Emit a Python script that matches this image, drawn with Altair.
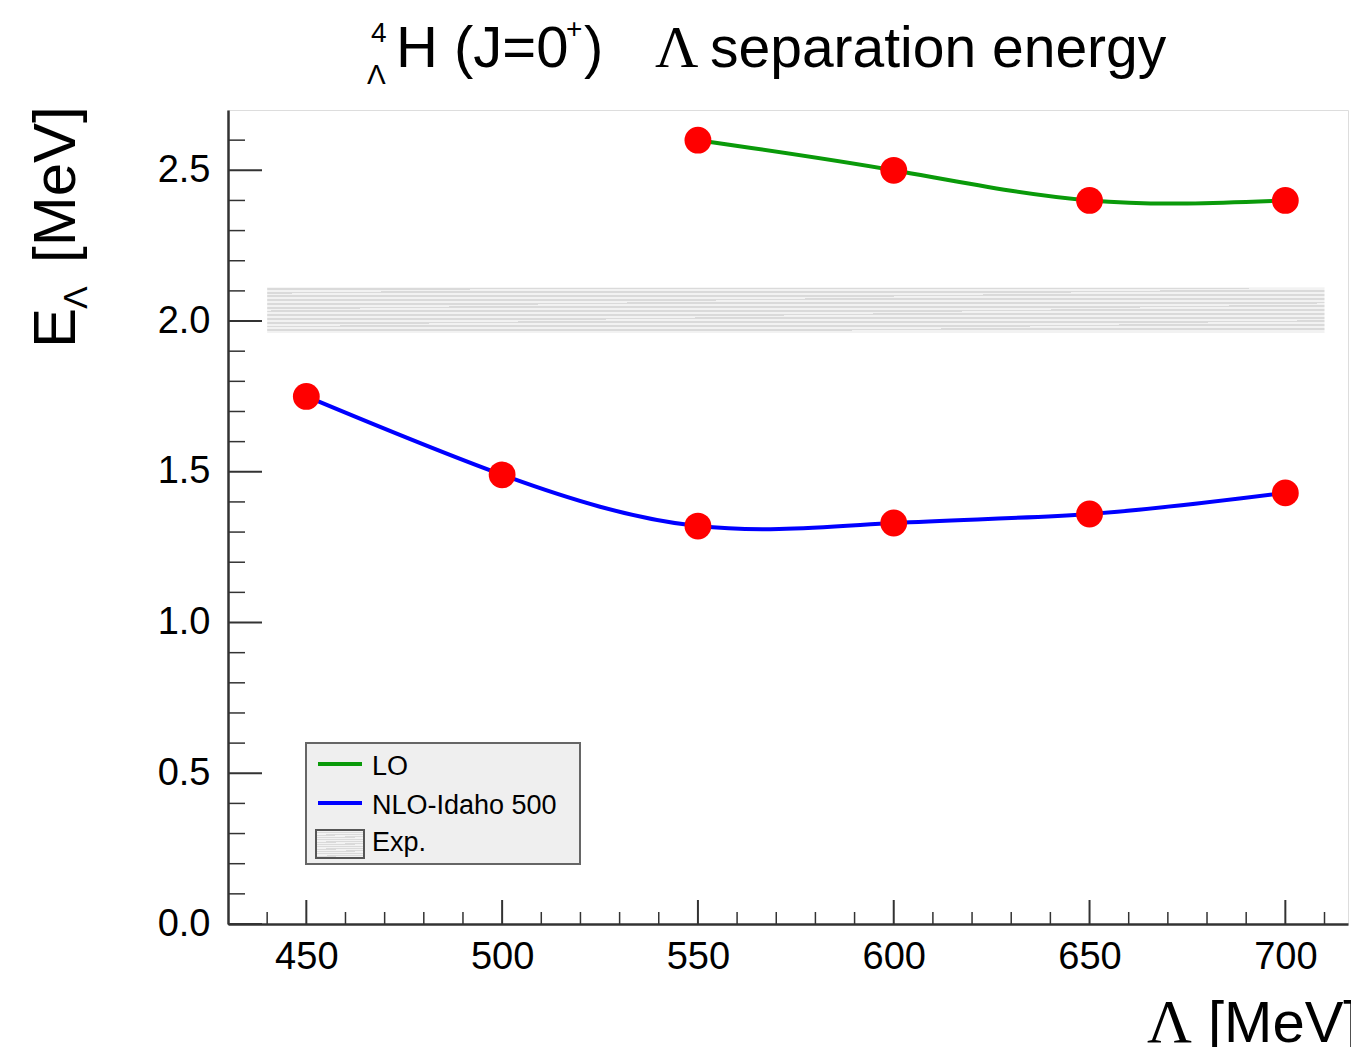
import altair as alt
import pandas as pd

# ---- data ----
cutoff_lo = [550, 600, 650, 700]
e_lo = [2.60, 2.50, 2.40, 2.40]
cutoff_nlo = [450, 500, 550, 600, 650, 700]
e_nlo = [1.75, 1.49, 1.32, 1.33, 1.36, 1.43]
exp_x = [440, 710]
exp_band = [1.96, 2.11]
x_major = [450, 500, 550, 600, 650, 700]
y_major = [0.0, 0.5, 1.0, 1.5, 2.0, 2.5]
legend_labels = ["LO", "NLO-Idaho 500", "Exp."]
series_colors = ["#0a9a0a", "#0000ff"]

X_DOMAIN = [430, 716]
Y_DOMAIN = [0, 2.7]
W, H = 1120, 814
OX, OY = 228, 110  # page position of plot origin
SANS = "Liberation Sans"
SERIF = "Liberation Serif"

x_minor = [v for v in range(440, 716, 10) if v % 50 != 0]
y_minor = [round(i * 0.1, 1) for i in range(1, 27) if i % 5 != 0]

xs = alt.Scale(domain=X_DOMAIN, nice=False, zero=False)
ys = alt.Scale(domain=Y_DOMAIN, nice=False, zero=True)

lo_df = pd.DataFrame({"x": cutoff_lo, "y": e_lo})
nlo_df = pd.DataFrame({"x": cutoff_nlo, "y": e_nlo})
band_df = pd.DataFrame({"x": [exp_x[0]], "x2": [exp_x[1]], "y": [exp_band[0]], "y2": [exp_band[1]]})

stops = []
n = 12
for i in range(n):
    a = i / n
    b = (i + 0.5) / n
    c = (i + 1) / n
    stops += [alt.GradientStop(color="#dadada", offset=a), alt.GradientStop(color="#dadada", offset=b),
              alt.GradientStop(color="#f2f2f2", offset=b), alt.GradientStop(color="#f2f2f2", offset=c)]
hatch = alt.LinearGradient(gradient="linear", stops=stops, x1=0, y1=0, x2=0.03, y2=1)

band = alt.Chart(band_df).mark_rect(fill=hatch).encode(
    x=alt.X("x:Q", scale=xs,
            axis=alt.Axis(values=x_major, title=None, ticks=False, tickSize=0, grid=False,
                          labelFontSize=38, labelFont=SANS, labelColor="#000", labelPadding=14,
                          domainColor="#333", domainWidth=2.5, format="d")),
    x2="x2:Q",
    y=alt.Y("y:Q", scale=ys,
            axis=alt.Axis(values=y_major, title=None, ticks=False, tickSize=0, grid=False,
                          labelFontSize=38, labelFont=SANS, labelColor="#000", labelPadding=18,
                          domainColor="#333", domainWidth=2.5, format=".1f")),
    y2="y2:Q",
)

line_lo = alt.Chart(lo_df).mark_line(color=series_colors[0], strokeWidth=4, interpolate="natural").encode(
    x=alt.X("x:Q", scale=xs), y=alt.Y("y:Q", scale=ys))
line_nlo = alt.Chart(nlo_df).mark_line(color=series_colors[1], strokeWidth=4, interpolate="natural").encode(
    x=alt.X("x:Q", scale=xs), y=alt.Y("y:Q", scale=ys))
pts_lo = alt.Chart(lo_df).mark_point(filled=True, color="#ff0000", size=720, opacity=1).encode(
    x=alt.X("x:Q", scale=xs), y=alt.Y("y:Q", scale=ys))
pts_nlo = alt.Chart(nlo_df).mark_point(filled=True, color="#ff0000", size=720, opacity=1).encode(
    x=alt.X("x:Q", scale=xs), y=alt.Y("y:Q", scale=ys))

# inward ticks
ymaj = alt.Chart(pd.DataFrame({"y": y_major})).mark_rule(color="#333", strokeWidth=2).encode(
    y=alt.Y("y:Q", scale=ys), x=alt.value(0), x2=alt.value(34))
ymin = alt.Chart(pd.DataFrame({"y": y_minor})).mark_rule(color="#333", strokeWidth=1.5).encode(
    y=alt.Y("y:Q", scale=ys), x=alt.value(0), x2=alt.value(17))
xmaj = alt.Chart(pd.DataFrame({"x": x_major})).mark_rule(color="#333", strokeWidth=2).encode(
    x=alt.X("x:Q", scale=xs), y=alt.value(H), y2=alt.value(H - 24))
xmin = alt.Chart(pd.DataFrame({"x": x_minor})).mark_rule(color="#333", strokeWidth=1.5).encode(
    x=alt.X("x:Q", scale=xs), y=alt.value(H), y2=alt.value(H - 12))


def txt(s, px, py, size, font=SANS, angle=0, align="left"):
    return alt.Chart(pd.DataFrame({"t": [s]})).mark_text(
        align=align, baseline="alphabetic", font=font, fontSize=size, angle=angle, color="#000"
    ).encode(x=alt.value(px - OX), y=alt.value(py - OY), text="t:N")


one = pd.DataFrame({"a": [0]})

# legend
leg_box = alt.Chart(one).mark_rect(fill="#efefef", stroke="#666", strokeWidth=2).encode(
    x=alt.value(306 - OX), x2=alt.value(580 - OX), y=alt.value(743 - OY), y2=alt.value(864 - OY))
leg_lo = alt.Chart(one).mark_rule(color=series_colors[0], strokeWidth=4).encode(
    x=alt.value(318 - OX), x2=alt.value(362 - OX), y=alt.value(764 - OY))
leg_nlo = alt.Chart(one).mark_rule(color=series_colors[1], strokeWidth=4).encode(
    x=alt.value(318 - OX), x2=alt.value(362 - OX), y=alt.value(803 - OY))
leg_exp = alt.Chart(one).mark_rect(fill=hatch, stroke="#555", strokeWidth=2).encode(
    x=alt.value(316 - OX), x2=alt.value(364 - OX), y=alt.value(830 - OY), y2=alt.value(858 - OY))
leg_t1 = txt(legend_labels[0], 372, 775, 27)
leg_t2 = txt(legend_labels[1], 372, 814, 27)
leg_t3 = txt(legend_labels[2], 372, 851, 27)

# title pieces
t1 = txt("4", 371, 42, 28)
t2 = txt("Λ", 367, 84, 28)
t3 = txt("H (J=0", 396, 67, 58)
t4 = txt("+", 566, 38, 28)
t5 = txt(")", 584, 67, 58)
t6 = txt("Λ", 655, 67, 60, font=SERIF)
t7 = txt("separation  energy", 710, 67, 57)

# y title pieces
ya = txt("E", 75, 348, 60, angle=270)
yb = txt("Λ", 87, 309, 34, angle=270)
yc = txt("[MeV]", 75, 263, 60, angle=270)

# x title pieces
xa = txt("Λ", 1147, 1042, 62, font=SERIF)
xb = txt("[MeV]", 1208, 1042, 58)

chart = alt.layer(
    band, ymin, ymaj, xmin, xmaj, line_lo, line_nlo, pts_lo, pts_nlo,
    leg_box, leg_lo, leg_nlo, leg_exp, leg_t1, leg_t2, leg_t3,
    t1, t2, t3, t4, t5, t6, t7, ya, yb, yc, xa, xb,
).properties(
    width=W, height=H,
    autosize=alt.AutoSizeParams(type="none"),
    padding={"left": 220, "top": 102, "right": 3, "bottom": 123},
).configure_view(
    stroke="#888", strokeWidth=2, fill="#fdfdfd"
).configure(background="#ffffff")

chart.save("out.html", embed_options={"renderer": "svg", "actions": False})
